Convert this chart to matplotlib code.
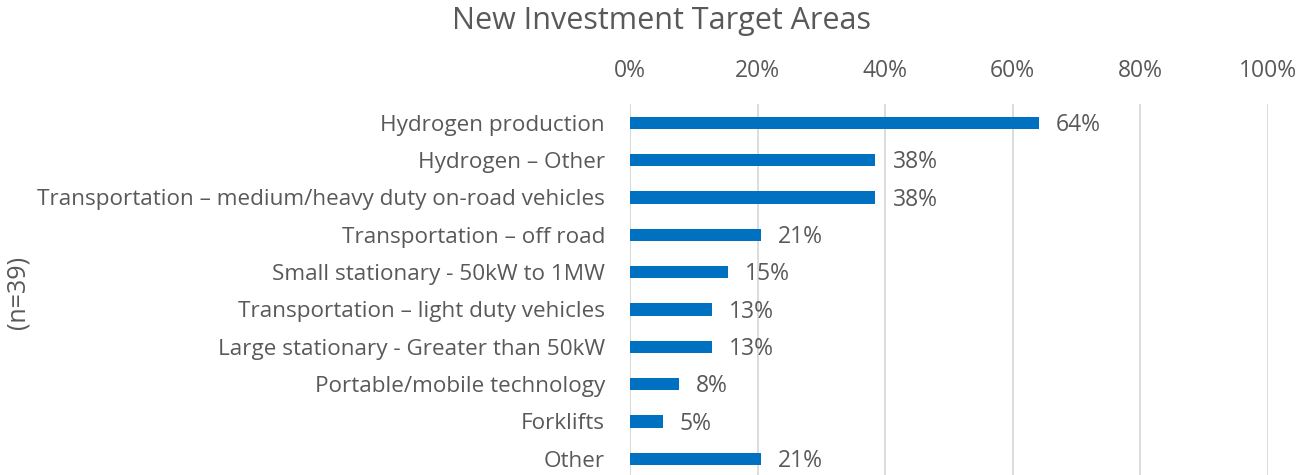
import matplotlib
matplotlib.use("Agg")
import matplotlib.pyplot as plt
from matplotlib.ticker import FuncFormatter

categories = [
    "Hydrogen production",
    "Hydrogen – Other",
    "Transportation – medium/heavy duty on-road vehicles",
    "Transportation – off road",
    "Small stationary - 50kW to 1MW",
    "Transportation – light duty vehicles",
    "Large stationary - Greater than 50kW",
    "Portable/mobile technology",
    "Forklifts",
    "Other",
]
counts = [25, 15, 15, 8, 6, 5, 5, 3, 2, 8]
n_total = 39
values = [c / n_total * 100 for c in counts]
xticks = [0, 20, 40, 60, 80, 100]

TEXT = "#595959"
BAR = "#0070C0"
GRID = "#D9D9D9"
plt.rcParams['font.family'] = ['Open Sans', 'DejaVu Sans']

fig = plt.figure(figsize=(13.02, 4.75), dpi=100)
ax = fig.add_axes([630 / 1302, -0.005, (1268 - 630) / 1302, 0.786])

y = list(range(len(categories)))
ax.barh(y, values, height=0.33, color=BAR, zorder=3)
ax.set_ylim(len(categories) - 0.5, -0.5)
ax.set_xlim(0, 100)
ax.set_xticks(xticks)
ax.xaxis.set_major_formatter(FuncFormatter(lambda v, p: f"{v:.0f}%"))
ax.xaxis.tick_top()
ax.tick_params(axis='x', length=0, pad=15, labelsize=16.5, labelcolor=TEXT)
ax.set_yticks(y)
ax.set_yticklabels(categories)
ax.tick_params(axis='y', length=0, pad=18, labelsize=16.2, labelcolor=TEXT)
ax.grid(axis='x', color=GRID, linewidth=1.3, zorder=0)
for s in ax.spines.values():
    s.set_visible(False)
ax.axvline(0, color=GRID, linewidth=1.3, zorder=1)

for yi, v in zip(y, values):
    ax.text(v + 2.7, yi + 0.06, f"{v:.0f}%", va='center', ha='left',
            fontsize=16.5, color=TEXT)

fig.text(662 / 1302, 0.955, "New Investment Target Areas",
         ha='center', va='center', fontsize=22, color=TEXT)
fig.text(18 / 1302, 1 - 292 / 475, "(n=39)", rotation=90, ha='center', va='center',
         fontsize=18, color=TEXT)

fig.savefig("out.png", dpi=100)
